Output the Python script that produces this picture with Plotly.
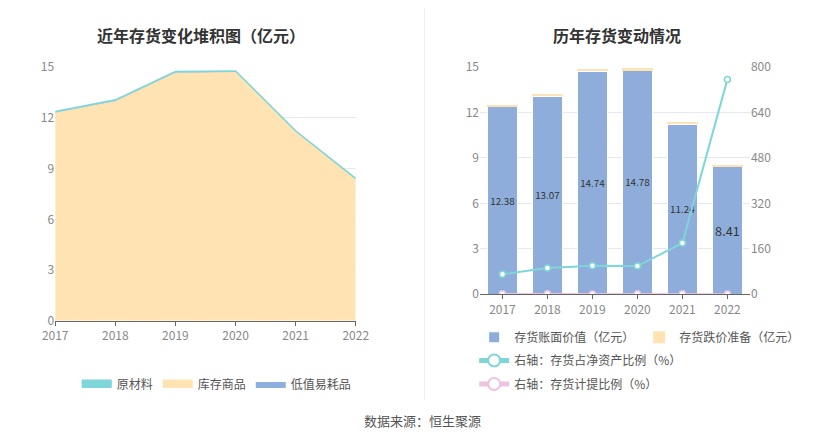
import plotly.graph_objects as go

years = ["2017", "2018", "2019", "2020", "2021", "2022"]
raw = [0.06, 0.06, 0.05, 0.05, 0.04, 0.03]
goods = [12.28, 12.96, 14.64, 14.68, 11.16, 8.36]
lowval = [0.04, 0.05, 0.05, 0.05, 0.04, 0.02]
book = [12.38, 13.07, 14.74, 14.78, 11.24, 8.41]
provision = [0.12, 0.18, 0.12, 0.15, 0.12, 0.05]
ratio_net = [70, 92, 100, 99, 180, 757]
ratio_prov = [1.0, 1.4, 0.8, 1.0, 1.1, 0.6]

F = "Noto Sans CJK SC"
grey = "#888"
fig = go.Figure()
# left stacked area
fig.add_trace(go.Scatter(x=years, y=goods, name="库存商品", stackgroup="a", mode="lines",
    line=dict(color="#ffe3b3", width=1), fillcolor="#ffe3b3", legend="legend", legendrank=2))
fig.add_trace(go.Scatter(x=years, y=lowval, name="低值易耗品", stackgroup="a", mode="lines",
    line=dict(color="#8eaede", width=0), fillcolor="#8eaede", legend="legend", legendrank=3))
fig.add_trace(go.Scatter(x=years, y=raw, name="原材料", stackgroup="a", mode="lines",
    line=dict(color="#7fd6d8", width=1.5), fillcolor="#7fd6d8", legend="legend", legendrank=1))
# right bars
fig.add_trace(go.Bar(x=years, y=book, name="存货账面价值（亿元）", marker=dict(color="#8eaddb", line=dict(color="white", width=1)),
    text=[f"{v:.2f}" for v in book], textposition="inside", insidetextanchor="middle", textangle=0,
    textfont=dict(color="#333", size=13), xaxis="x2", yaxis="y2", legend="legend2", width=0.68))
fig.add_trace(go.Bar(x=years, y=provision, name="存货跌价准备（亿元）", marker=dict(color="#ffe3b3", line=dict(width=0)),
    xaxis="x2", yaxis="y2", legend="legend2", width=0.68))
fig.add_trace(go.Scatter(x=years, y=ratio_net, name="右轴：存货占净资产比例（%）", mode="lines+markers",
    line=dict(color="#7fd6d8", width=2), marker=dict(size=6, color="white", line=dict(color="#7fd6d8", width=1.5)),
    xaxis="x2", yaxis="y3", legend="legend3"))
fig.add_trace(go.Scatter(x=years, y=ratio_prov, name="右轴：存货计提比例（%）", mode="lines+markers",
    line=dict(color="#edc3e3", width=1.5), marker=dict(size=6, color="white", line=dict(color="#edc3e3", width=1.5)),
    xaxis="x2", yaxis="y3", legend="legend4"))

ax = dict(showgrid=False, linecolor="#666", ticks="outside", ticklen=4, tickcolor="#666", automargin=False,
          tickfont=dict(color=grey, size=12, family=F))
ay = dict(gridcolor="#e3e8f3", tickfont=dict(color=grey, size=12, family=F), zeroline=False, automargin=False,
          range=[0, 15], tickvals=[0, 3, 6, 9, 12, 15], showline=False)
lg = dict(font=dict(size=12, color="#555", family=F), orientation="h", bgcolor="rgba(0,0,0,0)",
          xanchor="left", yanchor="middle", itemsizing="constant", traceorder="normal")
fig.update_layout(
    width=828, height=445, margin=dict(l=0, r=0, t=0, b=0), plot_bgcolor="white", paper_bgcolor="white",
    barmode="stack", font=dict(family=F),
    xaxis=dict(domain=[0.057, 0.42], range=[0, 5], **ax),
    yaxis=dict(domain=[0.297, 0.867], **ay),
    xaxis2=dict(domain=[0.57, 0.896], anchor="y2", **ax),
    yaxis2=dict(domain=[0.357, 0.867], anchor="x2", **ay),
    yaxis3=dict(overlaying="y2", side="right", anchor="x2", range=[0, 800], tickvals=[0, 160, 320, 480, 640, 800],
                showgrid=False, zeroline=False, automargin=False, tickfont=dict(color=grey, size=12, family=F)),
    legend=dict(x=0.083, y=0.155, **lg),
    legend2=dict(x=0.563, y=0.26, **lg),
    legend3=dict(x=0.563, y=0.208, **lg),
    legend4=dict(x=0.563, y=0.155, **lg),
    showlegend=True,
    annotations=[
        dict(text="<b>近年存货变化堆积图（亿元）</b>", x=0.233, y=0.97, xref="paper", yref="paper", showarrow=False,
             xanchor="center", font=dict(size=16, color="#333", family=F)),
        dict(text="<b>历年存货变动情况</b>", x=0.735, y=0.97, xref="paper", yref="paper", showarrow=False,
             xanchor="center", font=dict(size=16, color="#333", family=F)),
        dict(text="数据来源：恒生聚源", x=0.5, y=0.048, xref="paper", yref="paper", showarrow=False,
             xanchor="center", font=dict(size=13, color="#555", family=F)),
    ],
    shapes=[dict(type="line", xref="paper", yref="paper", x0=0.503, x1=0.503, y0=0.12, y1=1,
                 line=dict(color="#eee", width=1))],
)
fig.write_html("out.html")
